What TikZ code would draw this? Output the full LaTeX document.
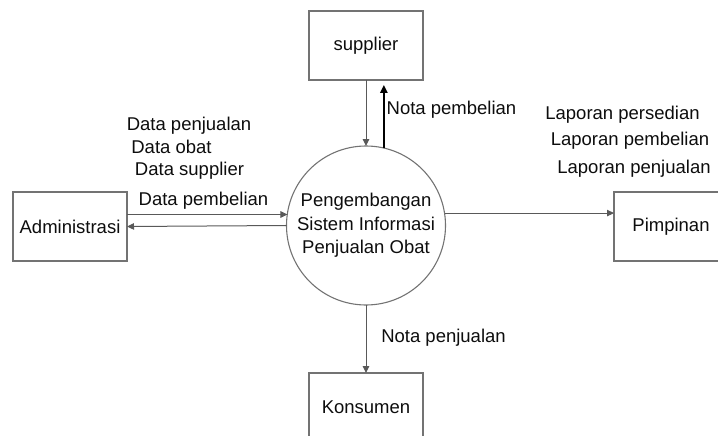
\documentclass[tikz,border=0pt]{standalone}
\usepackage{fontspec}
\setmainfont{Liberation Sans}
\usetikzlibrary{arrows.meta}
\begin{document}
\begin{tikzpicture}[x=1pt,y=-1pt,
  every node/.style={font=\fontsize{18.5}{23.5}\selectfont, text=black!95},
  entity/.style={draw=black!55, line width=1.1pt, minimum width=114pt, minimum height=69pt, inner sep=0pt, outer sep=0pt},
  proc/.style={draw=black!55, line width=1.1pt, circle, minimum size=159pt, inner sep=0pt, outer sep=0pt, align=center},
  flow/.style={draw=black!65, line width=1pt, -{Triangle[length=7pt,width=6.5pt]}},
  flowdark/.style={draw=black, line width=1.6pt, -{Triangle[length=8pt,width=7.5pt]}},
  lbl/.style={anchor=base, inner sep=0pt}
]
\useasboundingbox (0,0) rectangle (718,436);
\begin{scope}
\clip (0,0) rectangle (718,436);
\node[entity] (sup) at (366,45.5) {supplier};
\node[entity] (adm) at (70,226.5) {Administrasi};
\node[entity] (pim) at (671,226.5) {Pimpinan};
\node[entity] (kon) at (366,407.5) {Konsumen};
\node[proc] (p) at (366,225.5) {Pengembangan\\Sistem Informasi\\Penjualan Obat};
\end{scope}

% supplier <-> process
\draw[flow] (sup.south) -- (p.north);
\coordinate (upend) at ([yshift=-5pt]p.77.6 |- sup.south);
\draw[flowdark] (p.77.6) -- (upend);

% administrasi <-> process
\coordinate (admtop) at ([yshift=12pt]adm.east);
\draw[flow] (admtop) -- (admtop -| p.171.7);
\draw[flow] (p.west) -- (adm.east);

% process -> pimpinan
\draw[flow] (p.9) -- (p.9 -| pim.west);

% process -> konsumen
\draw[flow] (p.south) -- (kon.north);

% labels
\node[lbl] (l1) at (189,131) {Data penjualan};
\node[lbl] (l2) at (171.5,153) {Data obat};
\node[lbl] (l3) at (189.5,175) {Data supplier};
\node[lbl] (l4) at (203.5,205) {Data pembelian};
\node[lbl] (l5) at (451.5,114) {Nota pembelian};
\node[lbl] (l6) at (622.5,119) {Laporan persedian};
\node[lbl] (l7) at (630,146) {Laporan pembelian};
\node[lbl] (l8) at (634,173) {Laporan penjualan};
\node[lbl] (l9) at (443.5,342) {Nota penjualan};
\end{tikzpicture}
\end{document}
